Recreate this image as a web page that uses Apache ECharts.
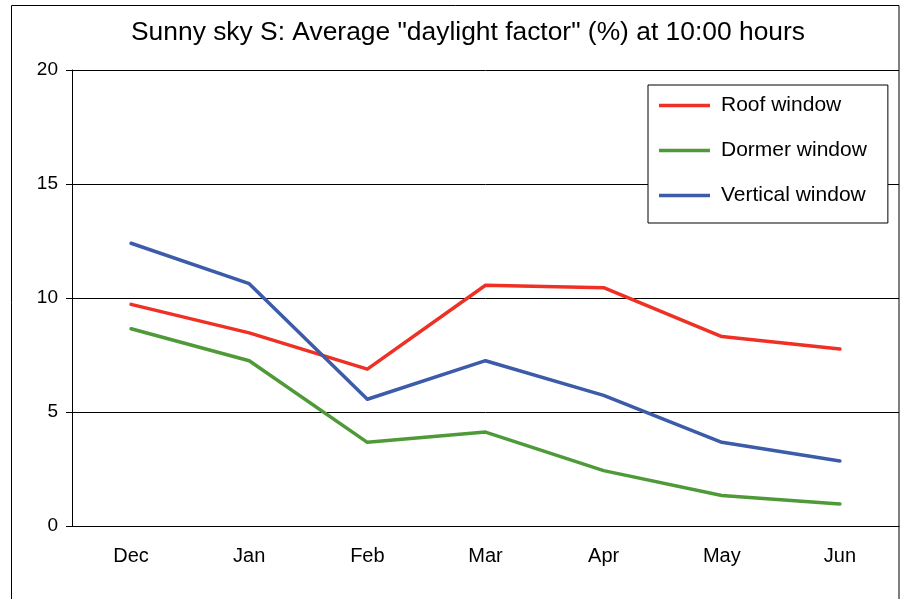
<!DOCTYPE html>
<html>
<head>
<meta charset="utf-8">
<script src="https://cdn.jsdelivr.net/npm/echarts@6/dist/echarts.min.js"></script>
<style>
  html, body { margin: 0; padding: 0; background: #fff; }
  #chart { width: 905px; height: 599px; }
</style>
</head>
<body>
<div id="chart"></div>
<script>
// months along the x axis
const months = ['Dec', 'Jan', 'Feb', 'Mar', 'Apr', 'May', 'Jun']
// average daylight factor (%) per window type
const roofWindow = [9.72, 8.47, 6.88, 10.56, 10.45, 8.31, 7.76]
const dormerWindow = [8.65, 7.25, 3.67, 4.12, 2.43, 1.34, 0.97]
const verticalWindow = [12.40, 10.63, 5.56, 7.25, 5.73, 3.67, 2.85]
const yTicks = [0, 5, 10, 15, 20]

const font = 'Liberation Sans, Arial, sans-serif'
const mkLine = (name, data, color) => ({
  name,
  type: 'line',
  data,
  symbol: 'none',
  lineStyle: { color, width: 3.5, cap: 'round', join: 'round' },
  itemStyle: { color },
})

const chart = echarts.init(document.getElementById('chart'), null, { renderer: 'canvas' })
chart.setOption({
  animation: false,
  backgroundColor: '#fff',
  title: {
    text: 'Sunny sky S: Average "daylight factor" (%) at 10:00 hours',
    left: 131, top: 20, padding: 0,
    textStyle: { fontFamily: font, fontSize: 26.4, fontWeight: 'normal', color: '#000' },
  },
  graphic: [{
    type: 'rect', z: 100, silent: true,
    shape: { x: 11.5, y: 5.5, width: 887.5, height: 620 },
    style: { fill: 'none', stroke: '#000', lineWidth: 1 },
  }],
  legend: {
    orient: 'vertical',
    left: 648, top: 85,
    padding: [10, 21, 17, 11],
    itemGap: 24,
    icon: 'rect',
    itemWidth: 51, itemHeight: 3.5,
    backgroundColor: '#fff',
    borderColor: '#000', borderWidth: 1,
    textStyle: { fontFamily: font, fontSize: 21, color: '#000', padding: [0, 0, 0, 6] },
    data: ['Roof window', 'Dormer window', 'Vertical window'],
  },
  grid: { left: 72, right: 6, top: 70, bottom: 73 },
  xAxis: {
    type: 'category',
    data: months,
    boundaryGap: true,
    axisLine: { lineStyle: { color: '#000', width: 1 } },
    axisTick: { length: 5, lineStyle: { color: '#000' } },
    axisLabel: { fontFamily: font, fontSize: 20, color: '#000', margin: 20 },
  },
  yAxis: {
    type: 'value',
    min: yTicks[0], max: yTicks[yTicks.length - 1], interval: 5,
    axisLine: { show: true, lineStyle: { color: '#000', width: 1 } },
    axisTick: { show: true, length: 6, lineStyle: { color: '#000' } },
    axisLabel: { fontFamily: font, fontSize: 19, color: '#000', margin: 14 },
    splitLine: { lineStyle: { color: '#000', width: 1 } },
  },
  series: [
    mkLine('Roof window', roofWindow, '#EE3124'),
    mkLine('Dormer window', dormerWindow, '#4F9A38'),
    mkLine('Vertical window', verticalWindow, '#3C5BA8'),
  ],
})
</script>
</body>
</html>
